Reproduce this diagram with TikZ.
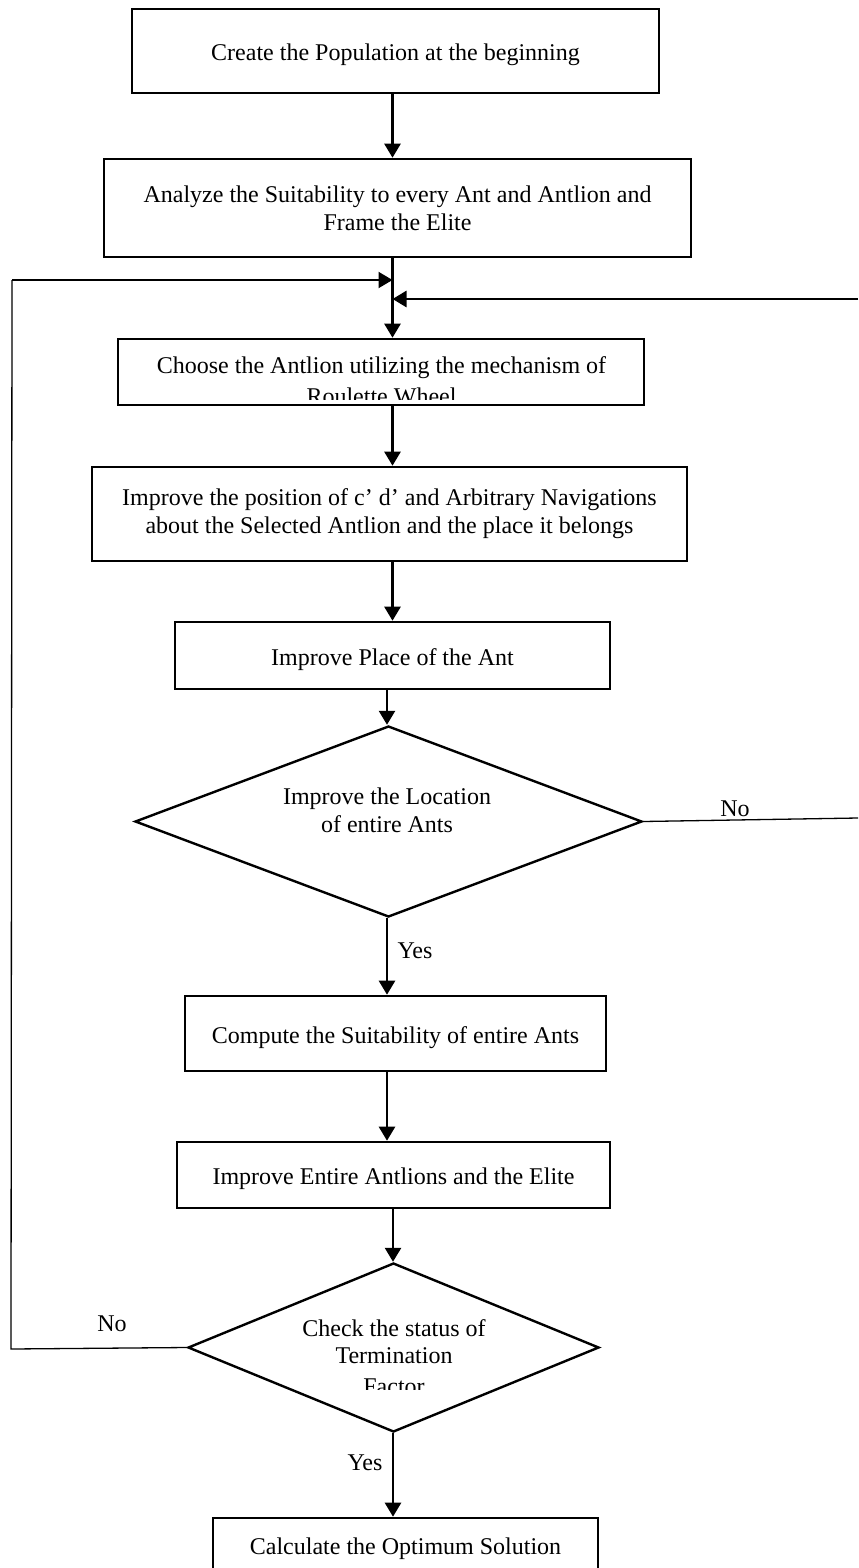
\documentclass[tikz,border=0pt]{standalone}
\usepackage{fontspec}
\setmainfont{Liberation Serif}
\usetikzlibrary{shapes.geometric,arrows.meta}

\begin{document}
\begin{tikzpicture}[
	% 以像素为单位作图 (1px = 0.5pt)
	x=0.5pt, y=-0.5pt,
	font=\fontsize{12}{14}\selectfont,
	% 矩形步骤框
	box/.style={draw, line width=1.3pt, inner sep=0pt, align=center},
	% 单行文字稍微下移
	oneline/.style={text height=9.5pt, text depth=0pt},
	% 判断菱形
	decision/.style={draw, diamond, line width=1.2pt, inner sep=0pt},
	% 纯文字
	txt/.style={inner sep=0pt, align=center},
	% 流程箭头
	flow/.style={-{Triangle[length=7pt, width=8pt]}, line width=1.3pt},
	% 返回用的细线
	back/.style={line width=0.65pt}
	]
	
	% ----- 0. 画布范围 -----
	\useasboundingbox (0,0) rectangle (858,1568);
	
	% ----- 1. 主干竖线的位置 -----
	\coordinate (colA) at (392.5,0);
	\coordinate (colB) at (387,0);
	\coordinate (colC) at (393,0);
	
	% ----- 2. 步骤框 -----
	\node[box, oneline, minimum width=263.5pt, minimum height=42pt] (create) at (395.5,51)
		{Create the Population at the beginning};
	\node[box, minimum width=293.5pt, minimum height=49pt] (analyze) at (397.5,208)
		{Analyze the Suitability to every Ant and Antlion and\\Frame the Elite};
	
	% 轮盘赌框：第二行文字被截掉一半
	\node[box, minimum width=263pt, minimum height=33pt] (choose) at (381,372) {};
	\coordinate (chooseCut) at (0,399);
	\begin{scope}
		\clip (choose.north west) rectangle (chooseCut -| choose.east);
		\node[txt] (chooseTxt) at (381.5,381)
			{Choose the Antlion utilizing the mechanism of\\[1.5pt]Roulette Wheel};
	\end{scope}
	
	\node[box, minimum width=297.5pt, minimum height=47pt] (improvePos) at (389.5,514)
		{Improve the position of c’ d’ and Arbitrary Navigations\\about the Selected Antlion and the place it belongs};
	\node[box, oneline, minimum width=217.5pt, minimum height=33.5pt] (improvePlace) at (392.5,655.5)
		{Improve Place of the Ant};
	\node[box, oneline, minimum width=210.5pt, minimum height=37.5pt] (compute) at (395.5,1033.5)
		{Compute the Suitability of entire Ants};
	\node[box, oneline, minimum width=216.5pt, minimum height=33pt] (improveAll) at (393.5,1175)
		{Improve Entire Antlions and the Elite};
	\node[box, oneline, minimum width=192.5pt, minimum height=26.5pt] (optimum) at (405.5,1544.5)
		{Calculate the Optimum Solution};
	
	% ----- 3. 判断框 -----
	\node[decision, minimum width=253.5pt, minimum height=95.5pt] (locate) at (388.5,821.5) {};
	\node[txt] (locateTxt) at (387,810) {Improve the Location\\of entire Ants};
	
	% 终止条件框：最后一行也被截掉
	\node[decision, minimum width=205.5pt, minimum height=84.5pt] (check) at (393.5,1347.5) {};
	\coordinate (checkCut) at (0,1389);
	\begin{scope}
		\clip (check.west |- check.north) rectangle (checkCut -| check.east);
		\node[txt, font=\fontsize{12}{13.5}\selectfont] (checkTxt) at (394,1357)
			{Check the status of\\Termination\\[2pt]Factor};
	\end{scope}
	
	% ----- 4. 主流程箭头 -----
	\draw[flow] (create.south -| colA) -- (analyze.north -| colA);
	\draw[flow] (analyze.south -| colA) -- (choose.north -| colA);
	\draw[flow] (choose.south -| colA) -- (improvePos.north -| colA);
	\draw[flow] (improvePos.south -| colA) -- (improvePlace.north -| colA);
	\draw[flow] (improvePlace.south -| colB) -- (locate.north -| colB);
	\draw[flow] (locate.south -| colB) -- (compute.north -| colB);
	\draw[flow] (compute.south -| colB) -- (improveAll.north -| colB);
	\draw[flow] (improveAll.south -| colC) -- (check.north -| colC);
	\draw[flow] (check.south -| colC) -- (optimum.north -| colC);
	
	% ----- 5. 返回线 -----
	% 右侧 No 分支
	\coordinate (rb) at (858,818);
	\coordinate (rt) at (858,299);
	\draw[back] (locate.east) -- (rb);
	\draw[flow] (rt) -- (rt -| colA);
	
	% 左侧 No 分支
	\coordinate (lb) at (11,1349);
	\coordinate (lt) at (12,280);
	\draw[back] (check.west) -- (lb) -- (lt);
	\draw[flow, line width=1pt] (lt) -- (lt -| colA);
	
	% ----- 6. 分支标签 -----
	\node[txt] (noA) at (735,809) {No};
	\node[txt] (yesA) at (415,951) {Yes};
	\node[txt] (noB) at (112,1324) {No};
	\node[txt] (yesB) at (365,1463) {Yes};
	
\end{tikzpicture}
\end{document}
